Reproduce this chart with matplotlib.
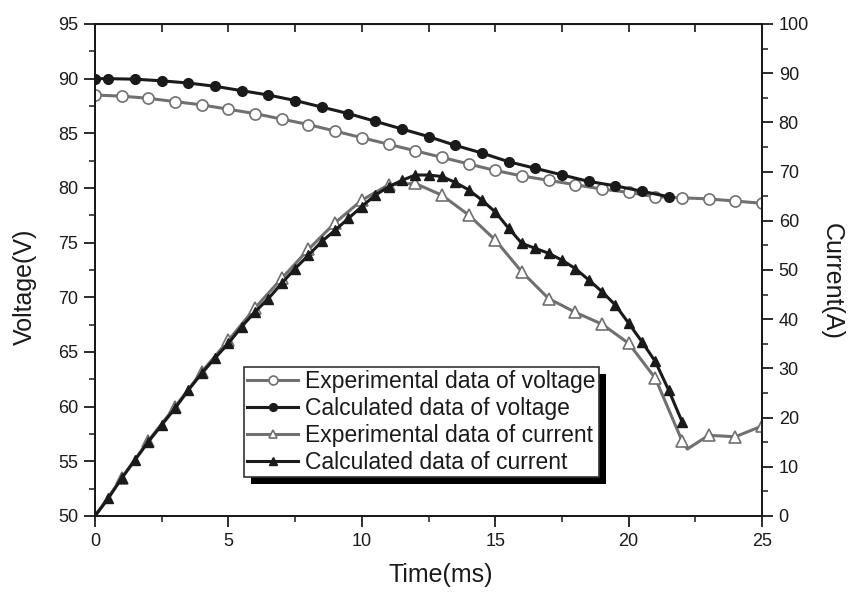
import matplotlib
matplotlib.use("Agg")
import matplotlib.pyplot as plt
from matplotlib.patches import Rectangle
from matplotlib.ticker import MultipleLocator
from matplotlib.transforms import IdentityTransform

plt.rcParams["font.family"] = ["Liberation Sans", "DejaVu Sans"]

# experimental voltage, sampled every 1 ms
exp_v_time = list(range(26))
exp_v = [88.5, 88.4, 88.2, 87.9, 87.6, 87.2, 86.8, 86.3, 85.8, 85.2,
         84.6, 84.0, 83.4, 82.8, 82.2, 81.6, 81.1, 80.7, 80.3, 79.9,
         79.6, 79.2, 79.1, 79.0, 78.8, 78.6]

# calculated voltage
calc_v_time = [0, 0.5, 1.5, 2.5, 3.5, 4.5, 5.5, 6.5, 7.5, 8.5, 9.5, 10.5,
               11.5, 12.5, 13.5, 14.5, 15.5, 16.5, 17.5, 18.5, 19.5, 20.5, 21.5]
calc_v = [90.0, 90.0, 89.95, 89.8, 89.6, 89.3, 88.9, 88.5, 88.0, 87.4, 86.8,
          86.1, 85.4, 84.7, 83.9, 83.2, 82.4, 81.8, 81.2, 80.6, 80.2, 79.7, 79.2]

# experimental current (one unmarked point at the dip)
exp_i_time = list(range(23)) + [22.2, 23, 24, 25]
exp_i = [0, 7.7, 15.3, 22.2, 29.3, 35.7, 42.3, 48.3, 54.2, 59.6, 64.2,
         67.3, 67.6, 65.2, 61.2, 56.1, 49.6, 44.2, 41.4, 39.0, 35.1, 28.0,
         15.3, 13.6, 16.4, 16.1, 18.3]
exp_i_marked = [i for i, t in enumerate(exp_i_time) if t != 22.2]

# calculated current, every 0.5 ms
calc_i_time = [k * 0.5 for k in range(45)]
calc_i = [0, 3.6, 7.7, 11.4, 15.1, 18.5, 21.9, 25.6, 29.0, 32.1, 35.1,
          38.5, 41.5, 44.2, 47.3, 50.3, 53.0, 55.8, 58.1, 60.5, 62.9, 65.2,
          66.9, 68.2, 69.3, 69.3, 69.0, 67.8, 66.3, 64.2, 61.8, 58.5, 55.4,
          54.4, 53.4, 52.0, 50.3, 48.0, 45.6, 42.9, 39.2, 35.4, 31.4, 25.6, 19.2]

labels = ["Experimental data of voltage", "Calculated data of voltage",
          "Experimental data of current", "Calculated data of current"]

GREY = "#707070"
INK = "#1a1a1a"

fig = plt.figure(figsize=(8.5, 5.92), dpi=100)
ax = fig.add_axes([0.1118, 0.1284, 0.7847, 0.8311])
ax2 = ax.twinx()

h1, = ax.plot(exp_v_time, exp_v, color=GREY, lw=2.2, marker="o", ms=8,
              mfc="white", mec=GREY, mew=1.2)
h2, = ax.plot(calc_v_time, calc_v, color=INK, lw=2.2, marker="o", ms=7,
              mfc=INK, mec=INK)
h3, = ax2.plot(exp_i_time, exp_i, color=GREY, lw=2.2, marker="^", ms=8,
               mfc="white", mec=GREY, mew=1.2, markevery=exp_i_marked)
h4, = ax2.plot(calc_i_time, calc_i, color=INK, lw=2.2, marker="^", ms=7,
               mfc=INK, mec=INK)

ax.set_xlim(0, 25)
ax.set_ylim(50, 95)
ax2.set_ylim(0, 100)

ax.xaxis.set_major_locator(MultipleLocator(5))
ax.xaxis.set_minor_locator(MultipleLocator(2.5))
ax.yaxis.set_major_locator(MultipleLocator(5))
ax.yaxis.set_minor_locator(MultipleLocator(2.5))
ax2.yaxis.set_major_locator(MultipleLocator(10))
ax2.yaxis.set_minor_locator(MultipleLocator(5))

for a in (ax, ax2):
    a.tick_params(which="major", direction="out", length=8, width=1.3,
                  labelsize=13, colors=INK, pad=4)
    a.tick_params(which="minor", direction="out", length=4, width=1.1, colors=INK)
    for s in a.spines.values():
        s.set_linewidth(1.4)
        s.set_color(INK)

top = ax.secondary_xaxis("top")
top.xaxis.set_major_locator(MultipleLocator(2.5))
top.tick_params(direction="in", length=6, width=1.2, labeltop=False, colors=INK)

ax.set_xlabel("Time(ms)", fontsize=18, color=INK)
ax.set_ylabel("Voltage(V)", fontsize=18, color=INK)
ax2.set_ylabel("Current(A)", fontsize=18, color=INK, rotation=270, va="bottom")
ax.xaxis.set_label_coords(0.519, -0.095)
ax.yaxis.set_label_coords(-0.087, 0.466)
ax2.yaxis.set_label_coords(1.087, 0.477)

leg = ax2.legend([h1, h2, h3, h4], labels, loc="upper left",
                 bbox_to_anchor=(0.2234, 0.3035), borderaxespad=0,
                 fontsize=16.5, frameon=True, fancybox=False, framealpha=1,
                 edgecolor="#333333", handlelength=2.2, handletextpad=0.3,
                 labelspacing=0.17, borderpad=0.15, markerscale=0.8)
leg.get_frame().set_linewidth(1.2)
for t in leg.get_texts():
    t.set_color(INK)

# drop shadow under the legend box
fig.canvas.draw()
bb = leg.get_window_extent()
shadow = Rectangle((bb.x0 + 7, bb.y0 - 7), bb.width, bb.height,
                   transform=IdentityTransform(), facecolor="black",
                   edgecolor="none", zorder=4.9, clip_on=False)
ax2.add_artist(shadow)

fig.savefig("out.png", dpi=100)
